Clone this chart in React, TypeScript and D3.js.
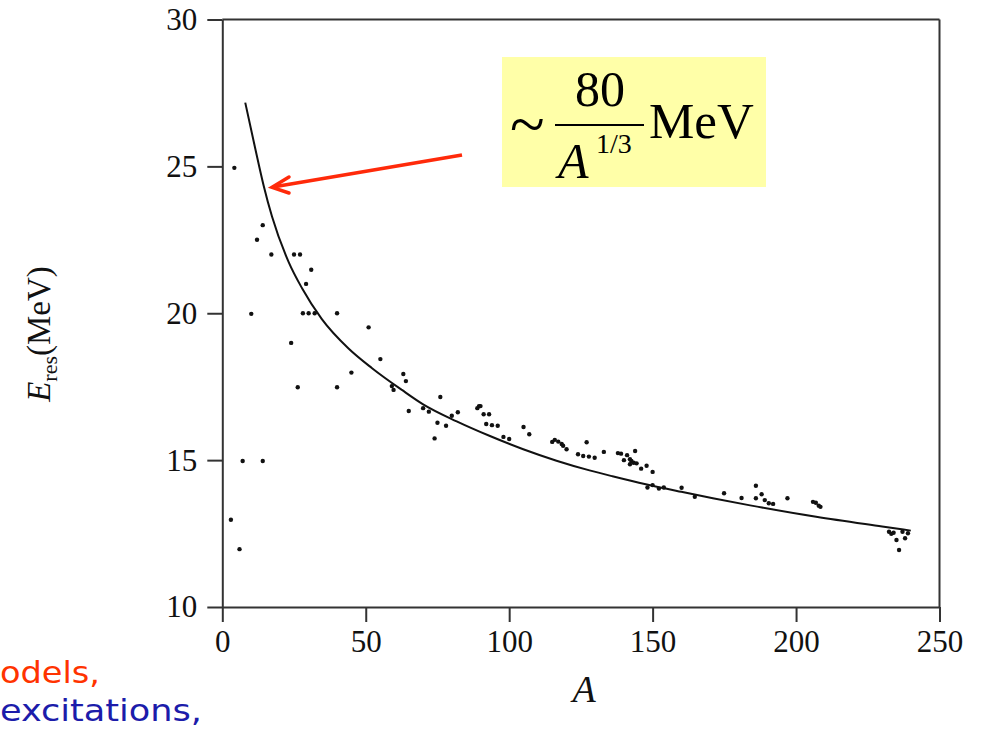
import { useEffect, useRef } from 'react';
import * as d3 from 'd3';

// scatter points: mass number A and resonance energy (MeV)
const dotA = [3, 4.2, 6, 7.1, 10.1, 12.1, 14.1, 14.1, 17.1, 24, 25, 26.3, 27.1, 28.1, 29.2, 30.1, 31, 32.2, 40, 40,
  45, 51, 55.1, 59.1, 59.7, 63.1, 64, 65, 70, 72, 74, 75, 76, 78, 80, 82.1, 88.9, 89.5, 90, 91.1, 92, 93, 94, 96, 98,
  100, 105, 107, 115, 115.9, 117.1, 118.3, 118.8, 120, 124, 125.8, 127, 127.8, 129.8, 133, 137.9, 139, 140, 141.1,
  142.1, 142.6, 142.1, 143.4, 143.9, 144.4, 146, 147.9, 148.2, 150, 150, 152.2, 153.9, 160.1, 164.7, 174.9, 181, 186,
  186, 188, 189.1, 190.5, 192, 197, 205.9, 206.9, 207.9, 208.5, 232.4, 233.2, 234, 235, 235.9, 237.1, 238, 239];
const dotE = [12.97, 24.95, 11.97, 14.97, 19.98, 22.5, 23.0, 14.97, 22.0, 18.99, 22, 17.48, 22, 20, 21, 20, 21.48, 20,
  20, 17.48, 17.98, 19.52, 18.44, 17.52, 17.39, 17.93, 17.69, 16.67, 16.77, 16.65, 15.74, 16.27, 17.15, 16.17, 16.51,
  16.63, 16.77, 16.84, 16.84, 16.56, 16.23, 16.56, 16.19, 16.17, 15.79, 15.72, 16.13, 15.88, 15.62, 15.69, 15.63,
  15.55, 15.49, 15.37, 15.2, 15.14, 15.61, 15.12, 15.08, 15.28, 15.24, 15.22, 15.0, 15.17, 15.03, 14.97, 14.86, 14.91,
  15.31, 14.89, 14.71, 14.81, 14.07, 14.6, 14.15, 14.03, 14.07, 14.06, 13.75, 13.87, 13.71, 14.13, 13.7, 13.84, 13.64,
  13.53, 13.51, 13.7, 13.58, 13.55, 13.45, 13.41, 12.56, 12.49, 12.53, 12.28, 11.94, 12.56, 12.34, 12.51];

// fitted curve
const curveA = [8, 11.5, 14.4, 17.3, 23.1, 27.8, 34.7, 44, 52.2, 62.6, 70, 81.7, 93.3, 104.9, 116.5, 128, 136, 148,
  160, 171, 184, 207, 230, 240];
const curveE = [27.17, 25.6, 24.35, 23.3, 21.75, 20.85, 19.8, 18.8, 18.13, 17.39, 16.9, 16.32, 15.82, 15.37, 14.98,
  14.65, 14.45, 14.17, 13.92, 13.7, 13.46, 13.07, 12.74, 12.6];

const xTicks = [0, 50, 100, 150, 200, 250];
const yTicks = [10, 15, 20, 25, 30];

function App() {
  const svgRef = useRef<SVGSVGElement>(null);

  useEffect(() => {
    const svg = d3.select(svgRef.current);
    svg.selectAll('*').remove();

    const x = d3.scaleLinear().domain([0, 250]).range([222.3, 939.5]);
    const y = d3.scaleLinear().domain([10, 30]).range([607, 19.5]);
    const serif = '"Liberation Serif", "Times New Roman", serif';
    const axisColor = '#333';

    // frame (top + right)
    svg.append('line')
      .attr('x1', x(0)).attr('x2', x(250))
      .attr('y1', y(30)).attr('y2', y(30))
      .attr('stroke', axisColor).attr('stroke-width', 2);
    svg.append('line')
      .attr('x1', x(250)).attr('x2', x(250))
      .attr('y1', y(30)).attr('y2', y(10))
      .attr('stroke', axisColor).attr('stroke-width', 2);

    // X axis
    const gx = svg.append('g')
      .attr('transform', `translate(0,${y(10)})`)
      .call(d3.axisBottom(x).tickValues(xTicks).tickSize(15).tickSizeOuter(0).tickPadding(8));
    gx.select('.domain').attr('stroke', axisColor).attr('stroke-width', 2);
    gx.selectAll('.tick line').attr('stroke', axisColor).attr('stroke-width', 2);
    gx.selectAll('.tick text')
      .attr('fill', '#111')
      .style('font-family', serif)
      .style('font-size', '31px');

    // Y axis
    const gy = svg.append('g')
      .attr('transform', `translate(${x(0)},0)`)
      .call(d3.axisLeft(y).tickValues(yTicks).tickSize(15).tickSizeOuter(0).tickPadding(10));
    gy.select('.domain').attr('stroke', axisColor).attr('stroke-width', 2);
    gy.selectAll('.tick line').attr('stroke', axisColor).attr('stroke-width', 2);
    gy.selectAll('.tick text')
      .attr('fill', '#111')
      .style('font-family', serif)
      .style('font-size', '31px');

    // axis labels
    svg.append('text')
      .attr('x', 584).attr('y', 702)
      .attr('text-anchor', 'middle')
      .style('font-family', serif)
      .style('font-style', 'italic')
      .style('font-size', '38px')
      .attr('fill', '#111')
      .text('A');

    const ylab = svg.append('text')
      .attr('transform', 'translate(50,334) rotate(-90)')
      .attr('text-anchor', 'middle')
      .style('font-family', serif)
      .style('font-size', '33px')
      .attr('fill', '#111');
    ylab.append('tspan').style('font-style', 'italic').text('E');
    ylab.append('tspan').attr('dy', 7).style('font-size', '22px').text('res');
    ylab.append('tspan').attr('dy', -7).text('(MeV)');

    // curve
    const pts = curveA.map((a, i) => [a, curveE[i]] as [number, number]);
    svg.append('path')
      .datum(pts)
      .attr('fill', 'none')
      .attr('stroke', '#111')
      .attr('stroke-width', 2)
      .attr('d', d3.line<[number, number]>()
        .x(d => x(d[0]))
        .y(d => y(d[1]))
        .curve(d3.curveMonotoneX));

    // data points
    svg.append('g')
      .selectAll('circle')
      .data(dotA.map((a, i) => [a, dotE[i]]))
      .join('circle')
      .attr('cx', d => x(d[0]))
      .attr('cy', d => y(d[1]))
      .attr('r', 2.2)
      .attr('fill', '#111');

    // formula box
    svg.append('rect')
      .attr('x', 502).attr('y', 57)
      .attr('width', 264).attr('height', 130)
      .attr('fill', '#ffffa8');
    const f = svg.append('g').style('font-family', serif).attr('fill', '#000');
    f.append('text').attr('x', 510).attr('y', 146).style('font-size', '64px').text('~');
    f.append('text').attr('x', 600).attr('y', 106).attr('text-anchor', 'middle')
      .style('font-size', '50px').text('80');
    f.append('line')
      .attr('x1', 555).attr('x2', 644).attr('y1', 125).attr('y2', 125)
      .attr('stroke', '#000').attr('stroke-width', 2);
    f.append('text').attr('x', 558).attr('y', 178)
      .style('font-size', '50px').style('font-style', 'italic').text('A');
    f.append('text').attr('x', 596).attr('y', 153)
      .style('font-size', '28px').text('1/3');
    f.append('text').attr('x', 649).attr('y', 138)
      .style('font-size', '51px').text('MeV');

    // red arrow
    const red = '#ff2a0a';
    svg.append('line')
      .attr('x1', 462).attr('y1', 155).attr('x2', 273).attr('y2', 187)
      .attr('stroke', red).attr('stroke-width', 3.5);
    svg.append('path')
      .attr('d', 'M289,177 L272,187.3 L289,193')
      .attr('fill', 'none')
      .attr('stroke', red).attr('stroke-width', 3.5)
      .attr('stroke-linecap', 'round');

    // slide fragments at bottom left
    const comic = '"Comic Sans MS", "DejaVu Sans Condensed", sans-serif';
    svg.append('text')
      .attr('x', 0).attr('y', 683)
      .style('font-family', comic).style('font-size', '31px')
      .attr('fill', '#ff3300')
      .attr('textLength', 100)
      .attr('lengthAdjust', 'spacingAndGlyphs')
      .text('odels,');
    svg.append('text')
      .attr('x', 0).attr('y', 721)
      .style('font-family', comic).style('font-size', '31px')
      .attr('fill', '#1c1caa')
      .attr('textLength', 202)
      .attr('lengthAdjust', 'spacingAndGlyphs')
      .text('excitations,');
  }, []);

  return (
    <svg
      ref={svgRef}
      width={986}
      height={731}
      style={{ position: 'absolute', left: 0, top: 0, background: '#fff' }}
    />
  );
}

export default App;
